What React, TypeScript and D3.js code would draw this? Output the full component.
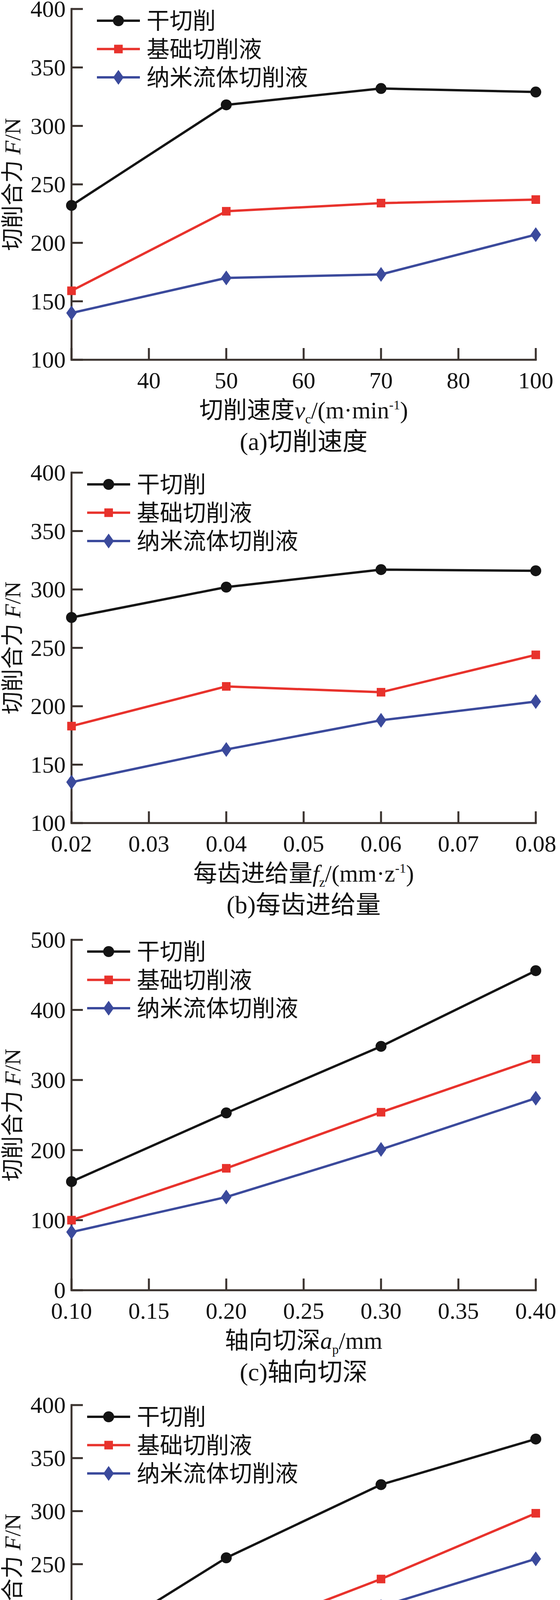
import { useEffect, useRef } from 'react';
import * as d3 from 'd3';

const seriesNames = ['干切削', '基础切削液', '纳米流体切削液'];
const seriesColors = ['#141414', '#e8322c', '#3b4a9c'];
const seriesShapes = ['circle', 'square', 'diamond'];

// (a) cutting speed
const speedTicks = ['30', '40', '50', '60', '70', '80', '100'];
const speedX = ['30', '50', '70', '100'];
const speedDry = [232, 318, 332, 329];
const speedBase = [159, 227, 234, 237];
const speedNano = [140, 170, 173, 207];

// (b) feed per tooth
const feedTicks = [0.02, 0.03, 0.04, 0.05, 0.06, 0.07, 0.08];
const feedX = [0.02, 0.04, 0.06, 0.08];
const feedDry = [276, 302, 317, 316];
const feedBase = [183, 217, 212, 244];
const feedNano = [135, 163, 188, 204];

// (c) axial depth
const apTicks = [0.1, 0.15, 0.2, 0.25, 0.3, 0.35, 0.4];
const apX = [0.1, 0.2, 0.3, 0.4];
const apDry = [155, 253, 348, 456];
const apBase = [100, 174, 254, 330];
const apNano = [83, 133, 201, 274];

// (d) radial depth
const aeTicks = [1, 1.5, 2, 2.5, 3, 3.5, 4];
const aeX = [1, 2, 3, 4];
const aeDry = [165, 256, 325, 368];
const aeBase = [135, 180, 236, 298];
const aeNano = [99, 133, 210, 255];

const W = 1433;
const H = 4733;
const X0 = 183;
const X1 = 1371;
const FONT = "'Liberation Serif','Times New Roman','Noto Sans CJK SC',serif";
const AXIS = '#3a322e';

type Part = { t: string; it?: boolean; sub?: boolean; sup?: boolean };

const panels = [
    {
        top: 23, bottom: 921, yDomain: [100, 400], yTicks: d3.range(100, 401, 50),
        kind: 'point', xTicks: speedTicks, xs: speedX, fmt: (d: any) => (d === '30' ? '' : d),
        series: [speedDry, speedBase, speedNano], legendX: 248,
        title: [{ t: '切削速度' }, { t: 'v', it: true }, { t: 'c', sub: true }, { t: '/(m·min' }, { t: '-1', sup: true }, { t: ')' }] as Part[],
        caption: '(a)切削速度',
    },
    {
        top: 1210, bottom: 2107, yDomain: [100, 400], yTicks: d3.range(100, 401, 50),
        kind: 'linear', xTicks: feedTicks, xs: feedX, fmt: d3.format('.2f'),
        series: [feedDry, feedBase, feedNano], legendX: 223,
        title: [{ t: '每齿进给量' }, { t: 'f', it: true }, { t: 'z', sub: true }, { t: '/(mm·z' }, { t: '-1', sup: true }, { t: ')' }] as Part[],
        caption: '(b)每齿进给量',
    },
    {
        top: 2406, bottom: 3303, yDomain: [0, 500], yTicks: d3.range(0, 501, 100),
        kind: 'linear', xTicks: apTicks, xs: apX, fmt: d3.format('.2f'),
        series: [apDry, apBase, apNano], legendX: 223,
        title: [{ t: '轴向切深' }, { t: 'a', it: true }, { t: 'p', sub: true }, { t: '/mm' }] as Part[],
        caption: '(c)轴向切深',
    },
    {
        top: 3597, bottom: 4493, yDomain: [70, 400], yTicks: d3.range(100, 401, 50),
        kind: 'linear', xTicks: aeTicks, xs: aeX, fmt: d3.format('.1f'),
        series: [aeDry, aeBase, aeNano], legendX: 223,
        title: [{ t: '径向切深' }, { t: 'a', it: true }, { t: 'e', sub: true }, { t: '/mm' }] as Part[],
        caption: '(d)径向切深',
    },
];

function drawMarker(g: any, shape: string, color: string, x: number, y: number) {
    if (shape === 'circle') {
        g.append('circle').attr('cx', x).attr('cy', y).attr('r', 14).attr('fill', color);
    } else if (shape === 'square') {
        g.append('rect').attr('x', x - 11).attr('y', y - 11).attr('width', 22).attr('height', 22).attr('fill', color);
    } else {
        g.append('path')
            .attr('d', `M${x},${y - 19}L${x + 13.5},${y}L${x},${y + 19}L${x - 13.5},${y}Z`)
            .attr('fill', color);
    }
}

function addParts(text: any, parts: Part[], size: number) {
    let shift = 0;
    parts.forEach(p => {
        const target = p.sub ? size * 0.22 : p.sup ? -size * 0.38 : 0;
        const ts = text.append('tspan').text(p.t).attr('dy', target - shift);
        if (p.it) ts.attr('font-style', 'italic');
        if (p.sub || p.sup) ts.attr('font-size', size * 0.55);
        shift = target;
    });
}

export default function App() {
    const svgRef = useRef<SVGSVGElement>(null);

    useEffect(() => {
        document.body.style.margin = '0';
        if (!svgRef.current) return;
        const svg = d3.select(svgRef.current);
        svg.selectAll('*').remove();

        panels.forEach(p => {
            const g = svg.append('g').attr('font-family', FONT).attr('fill', '#111');

            const x: any = p.kind === 'point'
                ? d3.scalePoint<string>().domain(p.xTicks as string[]).range([X0, X1]).padding(0)
                : d3.scaleLinear().domain(d3.extent(p.xTicks as number[]) as [number, number]).range([X0, X1]);
            const y = d3.scaleLinear().domain(p.yDomain).range([p.bottom, p.top]);

            // ticks (pointing inwards)
            g.selectAll('.yt').data(p.yTicks).join('line')
                .attr('x1', X0).attr('x2', X0 + 29)
                .attr('y1', d => y(d)).attr('y2', d => y(d))
                .attr('stroke', AXIS).attr('stroke-width', 5);
            g.selectAll('.xt').data(p.xTicks as any[]).join('line')
                .attr('x1', d => x(d)).attr('x2', d => x(d))
                .attr('y1', p.bottom).attr('y2', p.bottom - 30)
                .attr('stroke', AXIS).attr('stroke-width', 5);

            // axis frame
            g.append('path')
                .attr('d', `M${X0},${p.top - 2.5}V${p.bottom}H${X1 + 2.5}`)
                .attr('fill', 'none').attr('stroke', AXIS).attr('stroke-width', 5);

            // tick labels
            g.selectAll('.yl').data(p.yTicks).join('text')
                .attr('x', X0 - 15).attr('y', d => y(d)).attr('dy', '0.34em')
                .attr('text-anchor', 'end').attr('font-size', 60)
                .text(d => String(d));
            g.selectAll('.xl').data(p.xTicks as any[]).join('text')
                .attr('x', d => x(d)).attr('y', p.bottom + 73)
                .attr('text-anchor', 'middle').attr('font-size', 60)
                .text(d => p.fmt(d));

            // series
            p.series.forEach((vals, i) => {
                const pts = vals.map((v, j) => [x(p.xs[j] as any), y(v)] as [number, number]);
                g.append('path')
                    .attr('d', d3.line()(pts))
                    .attr('fill', 'none').attr('stroke', seriesColors[i])
                    .attr('stroke-width', 6).attr('stroke-linejoin', 'round');
                pts.forEach(([px, py]) => drawMarker(g, seriesShapes[i], seriesColors[i], px, py));
            });

            // legend
            seriesNames.forEach((name, i) => {
                const ly = p.top + 30 + i * 72.5;
                g.append('line')
                    .attr('x1', p.legendX).attr('x2', p.legendX + 110)
                    .attr('y1', ly).attr('y2', ly)
                    .attr('stroke', seriesColors[i]).attr('stroke-width', 6);
                drawMarker(g, seriesShapes[i], seriesColors[i], p.legendX + 55, ly);
                g.append('text')
                    .attr('x', p.legendX + 127).attr('y', ly).attr('dy', '0.36em')
                    .attr('font-size', 59).text(name);
            });

            // y title
            const yt = g.append('text')
                .attr('transform', `translate(52,${(p.top + p.bottom) / 2}) rotate(-90)`)
                .attr('text-anchor', 'middle').attr('font-size', 58);
            addParts(yt, [{ t: '切削合力 ' }, { t: 'F', it: true }, { t: '/N' }], 58);

            // x title
            const xt = g.append('text')
                .attr('x', (X0 + X1) / 2).attr('y', p.bottom + 150)
                .attr('text-anchor', 'middle').attr('font-size', 61);
            addParts(xt, p.title, 61);

            // caption
            g.append('text')
                .attr('x', (X0 + X1) / 2).attr('y', p.bottom + 231)
                .attr('text-anchor', 'middle').attr('font-size', 64)
                .text(p.caption);
        });
    }, []);

    return (
        <svg
            ref={svgRef}
            width={W}
            height={H}
            style={{ display: 'block', background: '#fff' }}
        />
    );
}
